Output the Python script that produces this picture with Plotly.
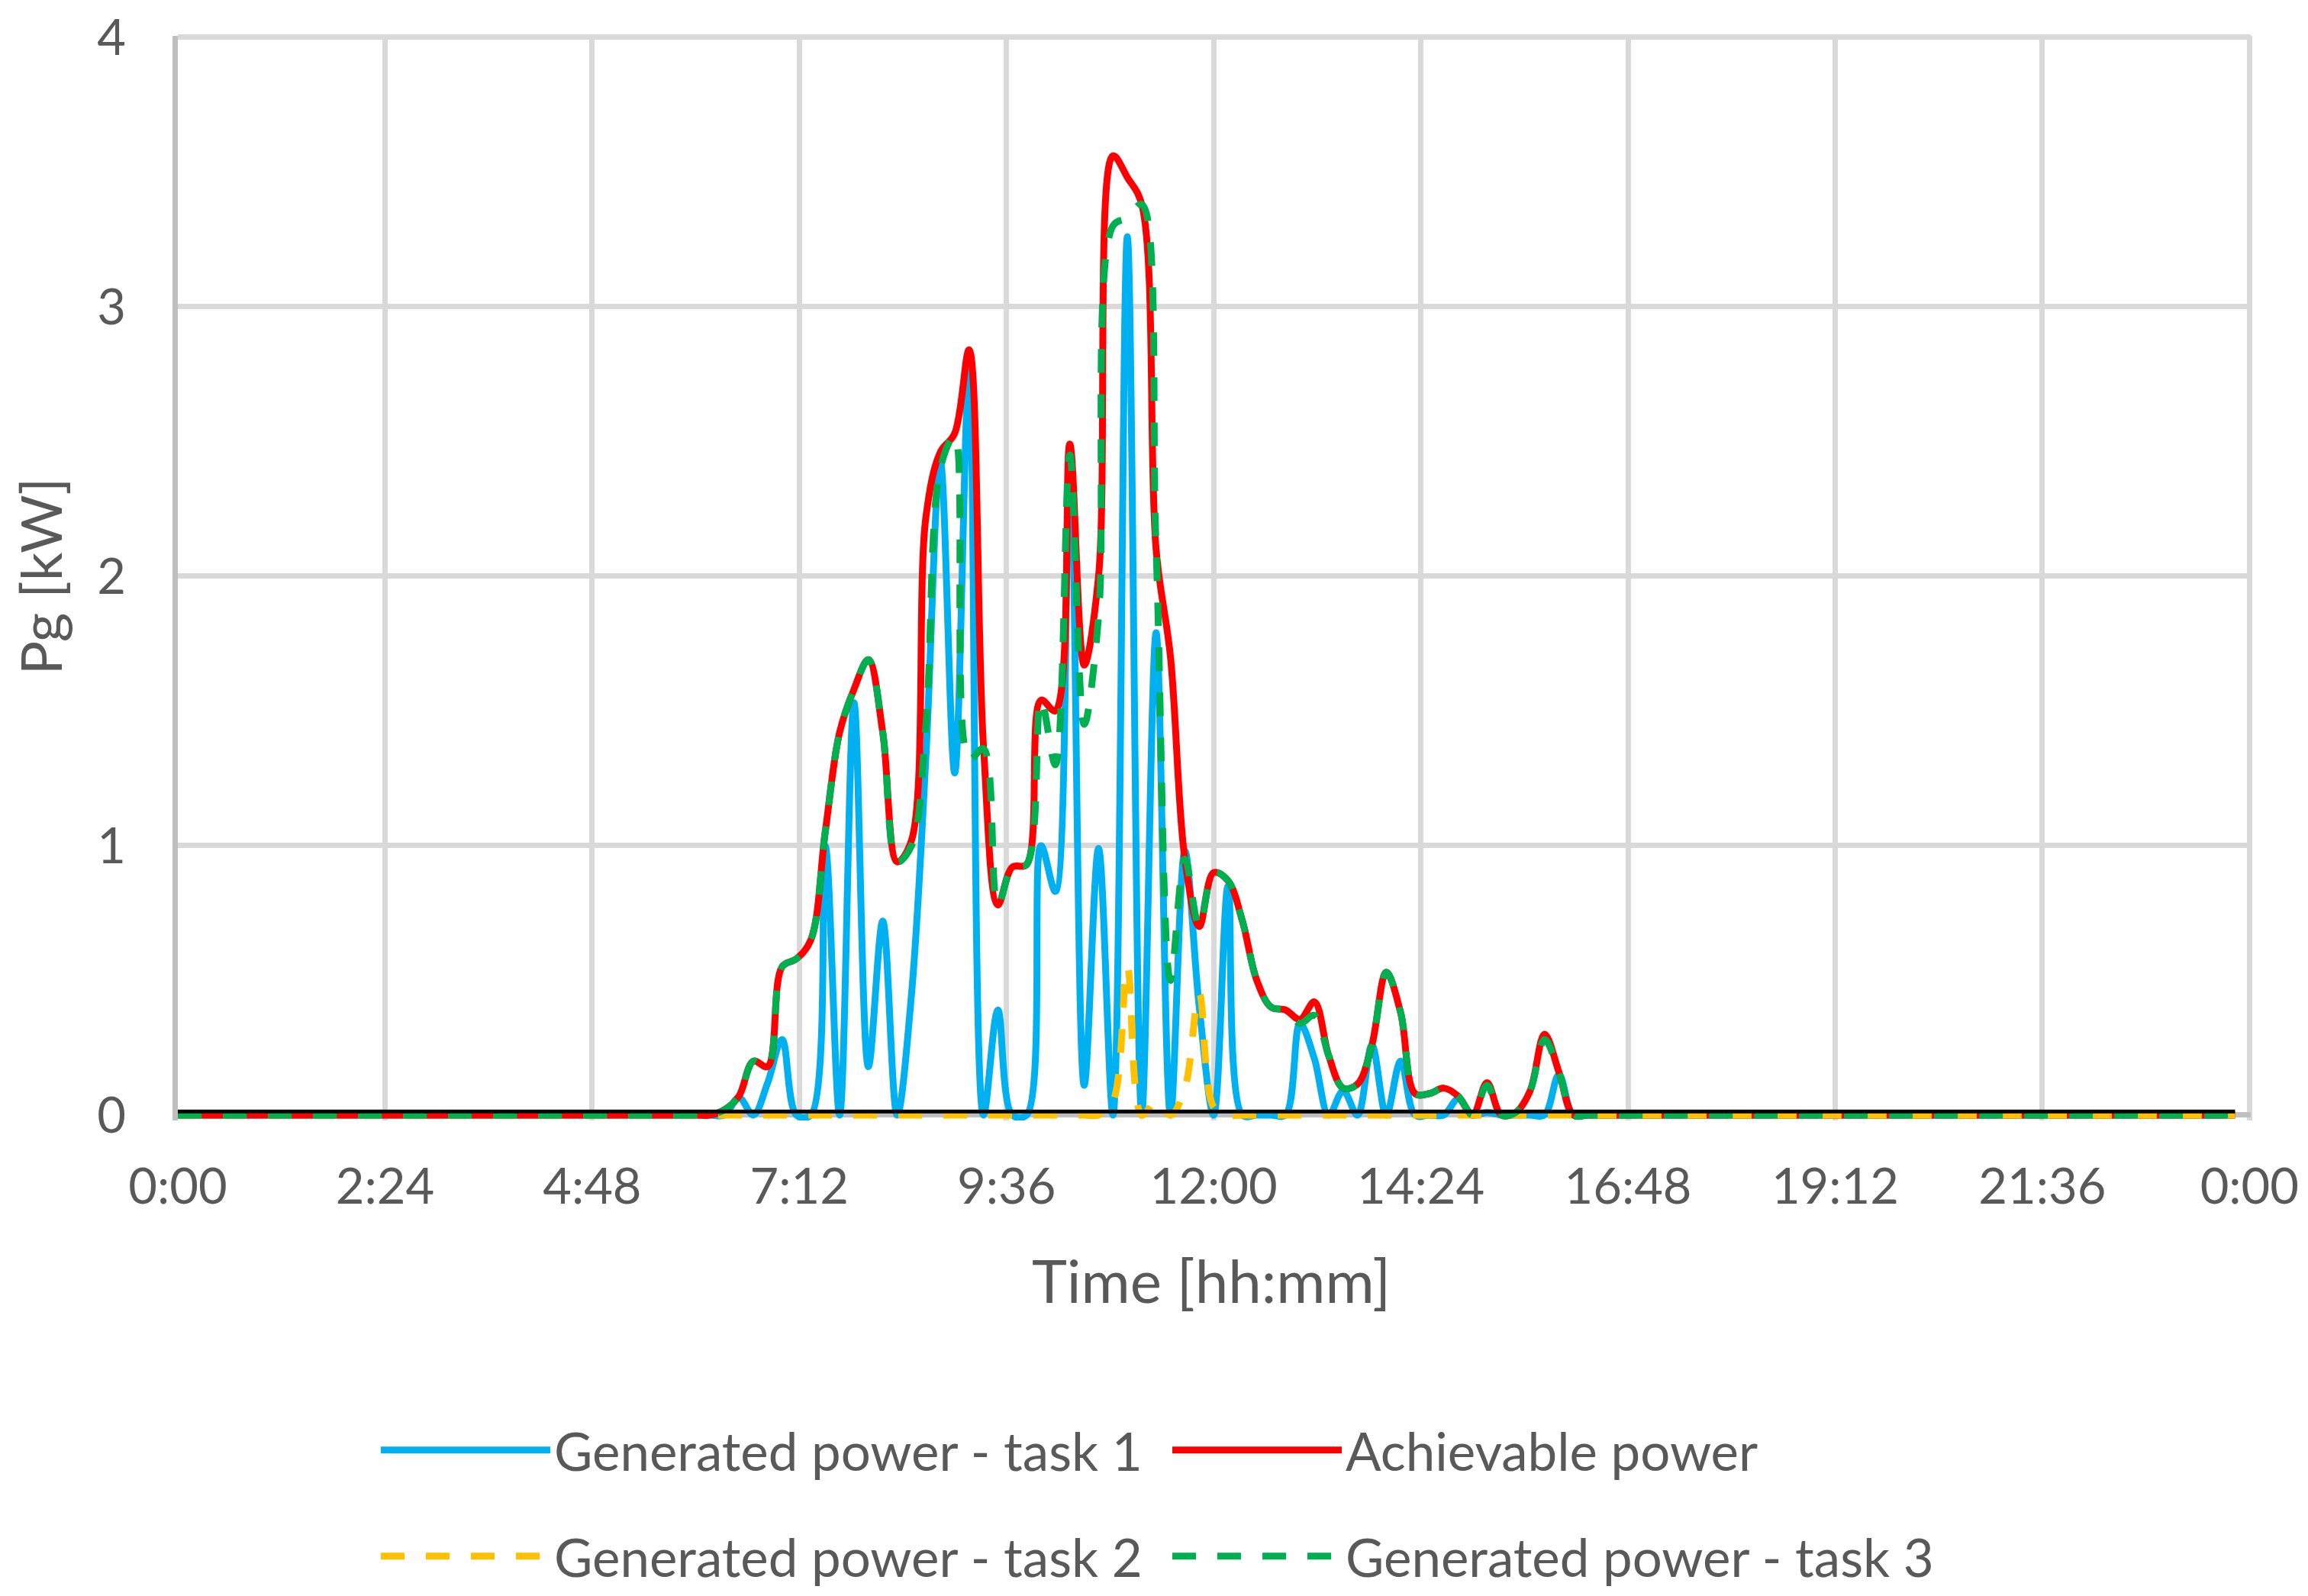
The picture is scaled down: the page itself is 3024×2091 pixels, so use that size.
import plotly.graph_objects as go

# ---------------- data (10-minute samples, values in kW) ----------------
TIME_LABELS = [
    "0:00",
    "6:00", "6:10", "6:20", "6:30", "6:40", "6:50",
    "7:00", "7:10", "7:20", "7:30", "7:40", "7:50",
    "8:00", "8:10", "8:20", "8:30", "8:40", "8:50",
    "9:00", "9:10", "9:20", "9:30", "9:40", "9:50",
    "10:00", "10:10", "10:20", "10:30", "10:40", "10:50",
    "11:00", "11:10", "11:20", "11:30", "11:40", "11:50",
    "12:00", "12:10", "12:20", "12:30", "12:40", "12:50",
    "13:00", "13:10", "13:20", "13:30", "13:40", "13:50",
    "14:00", "14:10", "14:20", "14:30", "14:40", "14:50",
    "15:00", "15:10", "15:20", "15:30", "15:40", "15:50",
    "16:00", "16:10", "16:20", "16:30",
    "23:50",
]

ACHIEVABLE = [
    0,
    0, 0, 0.02, 0.07, 0.20, 0.18,
    0.55, 0.58, 0.65, 1.05, 1.42, 1.58,
    1.69, 1.42, 0.94, 1.02, 2.22, 2.46,
    2.53, 2.84, 1.37, 0.78, 0.92, 0.93,
    1.54, 1.50, 2.49, 1.67, 2.00, 3.56,
    3.48, 3.38, 2.10, 1.70, 0.95, 0.70,
    0.90, 0.87, 0.72, 0.50, 0.40, 0.39,
    0.355, 0.42, 0.22, 0.10, 0.115, 0.26,
    0.53, 0.38, 0.08, 0.08, 0.10, 0.07,
    0.0, 0.12, 0.0, 0.01, 0.09, 0.30,
    0.16, 0.0, 0.0, 0.0,
    0,
]

TASK1 = [
    0,
    0, 0, 0, 0.065, 0, 0.12,
    0.28, 0, 0, 1.00, 0, 1.53,
    0.18, 0.72, 0, 0.45, 1.33, 2.43,
    1.27, 2.76, 0, 0.39, 0, 0,
    1.00, 0.83, 2.48, 0.11, 0.99, 0,
    3.26, 0, 1.79, 0, 0.98, 0.40,
    0, 0.85, 0, 0, 0, 0,
    0.34, 0.21, 0, 0.09, 0, 0.26,
    0, 0.20, 0, 0, 0, 0.06,
    0, 0.01, 0, 0, 0, 0,
    0.15, 0, 0, 0,
    0,
]

TASK2 = [
    0,
    0, 0, 0, 0, 0, 0,
    0, 0, 0, 0, 0, 0,
    0, 0, 0, 0, 0, 0,
    0, 0, 0, 0, 0, 0,
    0, 0, 0, 0, 0, 0.05,
    0.55, 0.0, 0.05, 0.0, 0.10, 0.45,
    0.03, 0, 0, 0, 0, 0,
    0, 0, 0, 0, 0, 0,
    0, 0, 0, 0, 0, 0,
    0, 0, 0, 0, 0, 0,
    0, 0, 0, 0,
    0,
]

TASK3 = [
    0,
    0, 0, 0.02, 0.07, 0.20, 0.18,
    0.55, 0.58, 0.65, 1.05, 1.42, 1.58,
    1.69, 1.42, 0.94, 1.00, 1.45, 2.40,
    2.52, 1.32, 1.36, 0.78, 0.92, 0.93,
    1.54, 1.30, 2.45, 1.45, 1.85, 3.30,
    3.33, 3.38, 2.10, 0.50, 0.95, 0.70,
    0.90, 0.87, 0.72, 0.50, 0.40, 0.39,
    0.34, 0.37, 0.22, 0.10, 0.115, 0.26,
    0.53, 0.38, 0.08, 0.08, 0.10, 0.07,
    0.0, 0.11, 0.0, 0.01, 0.09, 0.28,
    0.16, 0.0, 0.0, 0.0,
    0,
]

BASE_TIME = ["0:00", "23:50"]
BASE_VALS = [0.013, 0.013]

X_TICK_HOURS = [0, 2.4, 4.8, 7.2, 9.6, 12, 14.4, 16.8, 19.2, 21.6, 24]
X_TICK_LABELS = ["0:00", "2:24", "4:48", "7:12", "9:36", "12:00",
                 "14:24", "16:48", "19:12", "21:36", "0:00"]
Y_TICKS = [0, 1, 2, 3, 4]


def to_hours(label):
    h, m = label.split(":")
    return int(h) + int(m) / 60.0


x = [to_hours(t) for t in TIME_LABELS]
xb = [to_hours(t) for t in BASE_TIME]

FONT = "Lato"
TXT = "#595959"
LW = 9
DASH = "31px,28px"

# page layout (in page pixels): the body has an 8px margin
OFF = 8
W, H = 3024 - OFF, 2091 - OFF
PX_PER_H = 113.08          # horizontal scale
PX_PER_KW = 352.9          # vertical scale
X_RANGE = [0, 24.015]
Y_RANGE = [-0.02, 4.005]
X0_PAGE = 233              # page x of 0:00
Y0_PAGE = 1460.5           # page y of 0 kW

ML = X0_PAGE - OFF
PW = (X_RANGE[1] - X_RANGE[0]) * PX_PER_H
MR = W - ML - PW
PH = (Y_RANGE[1] - Y_RANGE[0]) * PX_PER_KW
plot_bottom_fig = Y0_PAGE - OFF + (0 - Y_RANGE[0]) * PX_PER_KW
MB = H - plot_bottom_fig
MT = H - MB - PH


def px_to_paper_x(px):
    return (px - OFF - ML) / PW


def px_to_paper_y(py):
    return (H - MB - (py - OFF)) / PH


fig = go.Figure()
fig.add_trace(go.Scatter(x=x, y=TASK1, mode="lines", name="Generated power - task 1",
                         line=dict(color="#00B0F0", width=LW, shape="spline", smoothing=1),
                         legend="legend"))
fig.add_trace(go.Scatter(x=x, y=ACHIEVABLE, mode="lines", name="Achievable power",
                         line=dict(color="#FF0000", width=LW, shape="spline", smoothing=1),
                         legend="legend"))
fig.add_trace(go.Scatter(x=x, y=TASK2, mode="lines", name="Generated power - task 2",
                         line=dict(color="#FFC000", width=LW, shape="spline", smoothing=1, dash=DASH),
                         legend="legend2"))
fig.add_trace(go.Scatter(x=x, y=TASK3, mode="lines", name="Generated power - task 3",
                         line=dict(color="#00B050", width=LW, shape="spline", smoothing=1, dash=DASH),
                         legend="legend2"))
fig.add_trace(go.Scatter(x=xb, y=BASE_VALS, mode="lines", showlegend=False,
                         line=dict(color="#000000", width=5)))

ITEMW = 222
ENTRYW = 1037 - ITEMW - 15
legend_common = dict(
    orientation="h", xref="container", yref="container",
    x=(496 - 5 + 3 - OFF) / W, xanchor="left", yanchor="middle",
    font=dict(family=FONT, size=69, color=TXT),
    itemwidth=ITEMW, entrywidth=ENTRYW, bgcolor="rgba(0,0,0,0)",
)

fig.update_layout(
    width=W, height=H,
    margin=dict(l=ML, r=MR, t=MT, b=MB, autoexpand=False),
    paper_bgcolor="white", plot_bgcolor="white",
    font=dict(family=FONT, size=65, color=TXT),
    showlegend=True,
    legend=dict(**legend_common, y=1 - (1900 - OFF) / H),
    legend2=dict(**legend_common, y=1 - (2039 - OFF) / H),
    xaxis=dict(
        range=X_RANGE, tickmode="array", tickvals=X_TICK_HOURS, ticktext=X_TICK_LABELS,
        showgrid=True, gridcolor="#D9D9D9", gridwidth=6.5,
        showline=False, zeroline=False, ticks="",
        tickfont=dict(family=FONT, size=65, color=TXT),
        ticklabelstandoff=43, ticklabeloverflow="allow",
    ),
    yaxis=dict(
        range=Y_RANGE, tickmode="array", tickvals=Y_TICKS,
        showgrid=True, gridcolor="#D9D9D9", gridwidth=6.5,
        zeroline=True, zerolinecolor="#BFBFBF", zerolinewidth=7,
        showline=True, linecolor="#BFBFBF", linewidth=7,
        ticks="", tickfont=dict(family=FONT, size=65, color=TXT),
        ticklabelstandoff=48, ticklabeloverflow="allow",
    ),
    annotations=[
        dict(text="Time [hh:mm]", xref="paper", yref="paper",
             x=px_to_paper_x(1587), y=px_to_paper_y(1676), xanchor="center", yanchor="middle",
             showarrow=False, font=dict(family=FONT, size=78, color=TXT)),
        dict(text="Pg [kW]", xref="paper", yref="paper",
             x=px_to_paper_x(52), y=px_to_paper_y(755), xanchor="center", yanchor="middle",
             textangle=-90, showarrow=False, font=dict(family=FONT, size=74, color=TXT)),
    ],
)

fig.write_html("out.html")
